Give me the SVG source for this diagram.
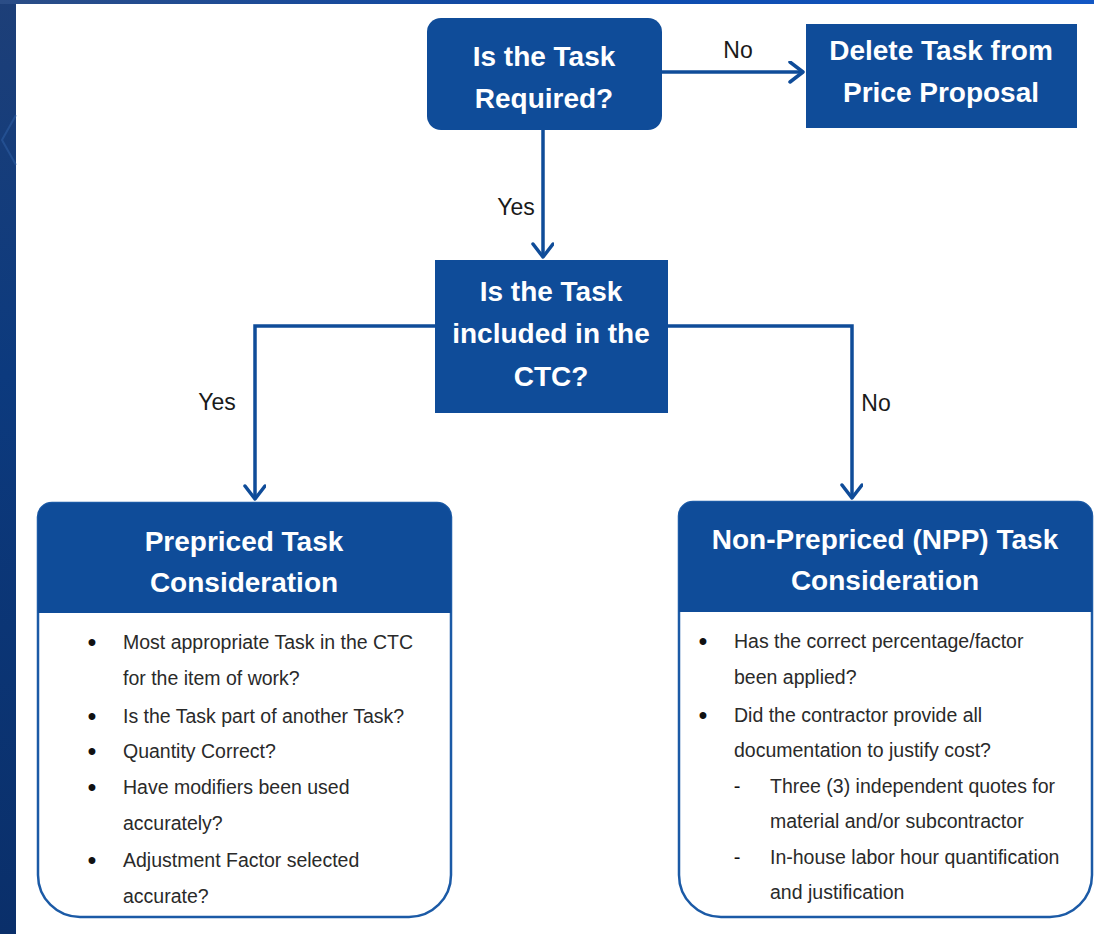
<svg xmlns="http://www.w3.org/2000/svg" width="1094" height="934" viewBox="0 0 1094 934">
<defs>
<linearGradient id="topg" x1="0" y1="0" x2="1" y2="0">
<stop offset="0" stop-color="#2b4d86"/>
<stop offset="0.5" stop-color="#0d49a8"/>
<stop offset="1" stop-color="#1257c4"/>
</linearGradient>
<linearGradient id="leftg" x1="0" y1="0" x2="0" y2="1">
<stop offset="0" stop-color="#1d3f78"/>
<stop offset="0.4" stop-color="#0c3a7e"/>
<stop offset="1" stop-color="#0a2f6a"/>
</linearGradient>
<marker id="arr" markerUnits="userSpaceOnUse" markerWidth="26" markerHeight="26" refX="16" refY="11" orient="auto">
<path d="M3,1 L16,11 L3,21" fill="none" stroke="#0f4c99" stroke-width="3.5" stroke-linecap="round" stroke-linejoin="round"/>
</marker>
</defs>
<style>
.node{fill:#0f4c99;}
.ttl{font-family:"Liberation Sans",Arial,sans-serif;font-weight:bold;font-size:28px;fill:#ffffff;text-anchor:middle;}
.lbl{font-family:"Liberation Sans",Arial,sans-serif;font-size:23px;fill:#1a1a1a;text-anchor:middle;}
.body{font-family:"Liberation Sans",Arial,sans-serif;font-size:19.5px;fill:#2a2a2a;}
.bul{font-family:"Liberation Sans",Arial,sans-serif;font-size:24px;font-weight:bold;fill:#111;text-anchor:middle;}
.dash{font-family:"Liberation Sans",Arial,sans-serif;font-size:20px;fill:#111;text-anchor:middle;}
.frame{fill:#ffffff;stroke:#1b5aa6;stroke-width:2.5;}
.conn{fill:none;stroke:#0f4c99;stroke-width:3.5;}
</style>
<rect width="1094" height="934" fill="#ffffff"/>
<rect x="0" y="0" width="16" height="934" fill="url(#leftg)"/>
<rect x="0" y="0" width="1094" height="4" fill="url(#topg)"/>
<path d="M16,115 L2,140 L16,165" fill="none" stroke="#2f62a8" stroke-width="2" opacity="0.5"/>

<g id="connectors">
<path class="conn" d="M662,72 H803" marker-end="url(#arr)"/>
<path class="conn" d="M543,130 V257" marker-end="url(#arr)"/>
<path class="conn" d="M435,326 H255 V499" marker-end="url(#arr)"/>
<path class="conn" d="M668,326 H852 V498" marker-end="url(#arr)"/>
<text class="lbl" x="738" y="58">No</text>
<text class="lbl" x="516" y="215">Yes</text>
<text class="lbl" x="217" y="410">Yes</text>
<text class="lbl" x="876" y="411">No</text>
</g>

<g id="node-required">
<rect class="node" x="427" y="18" width="235" height="112" rx="14"/>
<text class="ttl" x="544" y="66">Is the Task</text>
<text class="ttl" x="544" y="108">Required?</text>
</g>

<g id="node-delete">
<rect class="node" x="806" y="24" width="271" height="104"/>
<text class="ttl" x="941" y="60">Delete Task from</text>
<text class="ttl" x="941" y="102">Price Proposal</text>
</g>

<g id="node-ctc">
<rect class="node" x="435" y="260" width="233" height="153"/>
<text class="ttl" x="551" y="301">Is the Task</text>
<text class="ttl" x="551" y="343">included in the</text>
<text class="ttl" x="551" y="386">CTC?</text>
</g>

<g id="node-prepriced">
<path class="frame" d="M52,503 H437 A14,14 0 0 1 451,517 V875 A42,42 0 0 1 409,917 H80 A42,42 0 0 1 38,875 V517 A14,14 0 0 1 52,503 Z"/>
<path class="node" d="M52,503 H437 A14,14 0 0 1 451,517 V613 H38 V517 A14,14 0 0 1 52,503 Z"/>
<text class="ttl" x="244" y="551">Prepriced Task</text>
<text class="ttl" x="244" y="592">Consideration</text>
<text class="bul" x="92" y="650">•</text>
<text class="body" x="123" y="649">Most appropriate Task in the CTC</text>
<text class="body" x="123" y="685">for the item of work?</text>
<text class="bul" x="92" y="724">•</text>
<text class="body" x="123" y="723">Is the Task part of another Task?</text>
<text class="bul" x="92" y="759">•</text>
<text class="body" x="123" y="758">Quantity Correct?</text>
<text class="bul" x="92" y="795">•</text>
<text class="body" x="123" y="794">Have modifiers been used</text>
<text class="body" x="123" y="830">accurately?</text>
<text class="bul" x="92" y="868">•</text>
<text class="body" x="123" y="867">Adjustment Factor selected</text>
<text class="body" x="123" y="903">accurate?</text>
</g>

<g id="node-npp">
<path class="frame" d="M693,502 H1078 A14,14 0 0 1 1092,516 V875 A42,42 0 0 1 1050,917 H721 A42,42 0 0 1 679,875 V516 A14,14 0 0 1 693,502 Z"/>
<path class="node" d="M693,502 H1078 A14,14 0 0 1 1092,516 V612 H679 V516 A14,14 0 0 1 693,502 Z"/>
<text class="ttl" x="885" y="549">Non-Prepriced (NPP) Task</text>
<text class="ttl" x="885" y="590">Consideration</text>
<text class="bul" x="703" y="649">•</text>
<text class="body" x="734" y="648">Has the correct percentage/factor</text>
<text class="body" x="734" y="684">been applied?</text>
<text class="bul" x="703" y="723">•</text>
<text class="body" x="734" y="722">Did the contractor provide all</text>
<text class="body" x="734" y="757">documentation to justify cost?</text>
<text class="dash" x="737" y="793">-</text>
<text class="body" x="770" y="793">Three (3) independent quotes for</text>
<text class="body" x="770" y="828">material and/or subcontractor</text>
<text class="dash" x="737" y="864">-</text>
<text class="body" x="770" y="864">In-house labor hour quantification</text>
<text class="body" x="770" y="899">and justification</text>
</g>
</svg>
